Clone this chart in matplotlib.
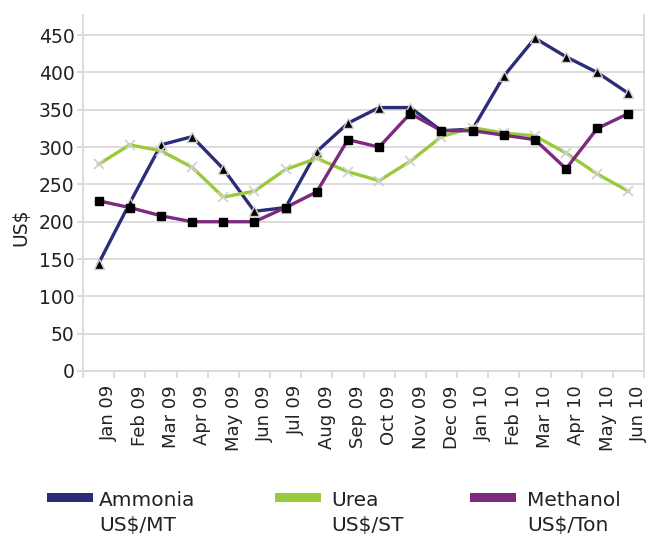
import matplotlib
matplotlib.use("Agg")
import matplotlib.pyplot as plt
from matplotlib.patches import Rectangle

months = ["Jan 09", "Feb 09", "Mar 09", "Apr 09", "May 09", "Jun 09",
          "Jul 09", "Aug 09", "Sep 09", "Oct 09", "Nov 09", "Dec 09",
          "Jan 10", "Feb 10", "Mar 10", "Apr 10", "May 10", "Jun 10"]
ammonia = [144, 225, 303, 314, 271, 214, 219, 294, 332, 353, 353, 322,
           324, 395, 446, 421, 400, 372]
urea = [277, 303, 295, 273, 233, 241, 270, 285, 267, 255, 281, 314,
        326, 319, 315, 292, 264, 241]
methanol = [228, 219, 208, 200, 200, 200, 219, 240, 310, 300, 345, 322,
            322, 316, 310, 271, 325, 345]
yticks = list(range(0, 451, 50))

c_amm = "#2A2D78"
c_urea = "#9ACA3C"
c_meth = "#7B2A7D"
grid_c = "#D9D9D9"

plt.rcParams["font.family"] = "DejaVu Sans"

fig = plt.figure(figsize=(6.49, 5.35), dpi=100)
ax = fig.add_axes([83 / 649, 1 - 371 / 535, 561 / 649, 356 / 535])

x = list(range(len(months)))
ax.plot(x, ammonia, color=c_amm, lw=2.4, marker="^", ms=6.5,
        mfc="black", mec="#D0D0D0", mew=1, zorder=3)
ax.plot(x, urea, color=c_urea, lw=2.4, marker="x", ms=6.5,
        mec="#D0D0D0", mew=1.2, zorder=4)
ax.plot(x, methanol, color=c_meth, lw=2.4, marker="s", ms=6,
        mfc="black", mec="black", zorder=5)

ax.set_xlim(-0.5, len(months) - 0.5)
ax.set_ylim(0, 477)
ax.set_yticks(yticks)
ax.yaxis.grid(True, color=grid_c, lw=1.3)
ax.set_axisbelow(True)

ax.set_xticks([i + 0.5 for i in range(-1, len(months))])
ax.set_xticklabels([""] * (len(months) + 1))
for i, m in enumerate(months):
    ax.text(i + 0.33, -0.04, m, transform=ax.get_xaxis_transform(),
            rotation=90, ha="center", va="top", fontsize=13, color="#222222",
            clip_on=False)

for s in ["left", "right", "bottom"]:
    ax.spines[s].set_color(grid_c)
    ax.spines[s].set_linewidth(1.3)
ax.spines["top"].set_visible(False)
ax.tick_params(axis="both", colors=grid_c, width=1.3, length=5,
               labelcolor="#222222", labelsize=13.5)
ax.tick_params(axis="y", length=4, pad=2)
ax.set_ylabel("US$", fontsize=13.5, color="#222222")
ax.yaxis.set_label_coords(-0.094, 0.405)

# legend
items = [("Ammonia", "US$/MT", c_amm, 47, 99),
         ("Urea", "US$/ST", c_urea, 275, 331),
         ("Methanol", "US$/Ton", c_meth, 470, 527)]
for name, unit, col, px, tx in items:
    fig.add_artist(Rectangle((px / 649, 1 - 502 / 535), 46 / 649, 9 / 535,
                             transform=fig.transFigure, color=col, lw=0))
    fig.text(tx / 649, 1 - 506 / 535, name, fontsize=14.5, color="#222222",
             va="baseline", ha="left")
    fig.text(tx / 649, 1 - 531 / 535, unit, fontsize=14.5, color="#222222",
             va="baseline", ha="left")

fig.savefig("out.png", dpi=100)
